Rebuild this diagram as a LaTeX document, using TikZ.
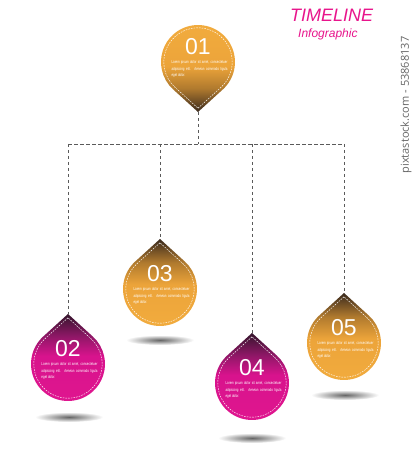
\documentclass[tikz,border=0pt]{standalone}
\usepackage{fontspec}
\setmainfont{Liberation Sans}
\newfontfamily\wmfont{Open Sans}
\newfontfamily\condfont[FakeStretch=0.7]{Liberation Sans}
\usetikzlibrary{calc}
\definecolor{orng}{HTML}{ECA43A}
\definecolor{orngl}{HTML}{F2AC3E}
\definecolor{orngm}{HTML}{B07A2E}
\definecolor{orngdk}{HTML}{3A2A1E}
\definecolor{mag}{HTML}{D8138D}
\definecolor{magl}{HTML}{E0168F}
\definecolor{magm}{HTML}{8E1766}
\definecolor{magdk}{HTML}{34152B}
\definecolor{titlepink}{HTML}{E8158C}
\definecolor{linegray}{HTML}{5A5A5A}
\pgfdeclareverticalshading{orngdrop}{100bp}{color(0bp)=(orngl); color(25bp)=(orngl); color(50bp)=(orng); color(62bp)=(orngm); color(75bp)=(orngdk); color(100bp)=(orngdk)}
\pgfdeclareverticalshading{magdrop}{100bp}{color(0bp)=(magl); color(25bp)=(magl); color(52bp)=(mag); color(63bp)=(magm); color(75bp)=(magdk); color(100bp)=(magdk)}
\tikzset{
  conn/.style={draw=linegray, line width=0.8pt, dash pattern=on 3.5pt off 2.5pt},
  stitch/.style={draw=white, line width=0.45pt, dash pattern=on 1.6pt off 1.1pt},
  num/.style={text=white, font=\fontsize{23}{23}\selectfont, inner sep=0pt, text depth=0pt, anchor=base},
  lorem/.style={text=white, font=\condfont\fontsize{4.2}{6.5}\selectfont, text width=56pt, align=justify, inner sep=0pt, anchor=north},
  shadowell/.style={inner color=black!60, outer color=white},
}
\newcommand{\mkdrop}[6]{%
  \pgfmathsetmacro{\shang}{#4-90}%
  \coordinate (#1) at (#2,#3);
  \coordinate (#1tip) at ($(#1)+(#4:50)$);
  \shade[shading=#5, shading angle=\shang] (#1tip) -- ($(#1)+(#4+42.27:37)$) arc[start angle=#4+42.27, end angle=#4+317.73, radius=37] -- cycle;
  \draw[stitch] ($(#1)+(#4:46.2)$) -- ($(#1)+(#4+42.27:34.2)$) arc[start angle=#4+42.27, end angle=#4+317.73, radius=34.2] -- cycle;
  \node[num] (#1num) at ($(#1)+(0,7.5)$) {#6};
  \node[lorem] (#1txt) at ($(#1)+(1.5,1.5)$) {Lorem ipsum dolor sit amet, consectetuer adipiscing elit. Aenean commodo ligula eget dolor.};
}
\begin{document}
\begin{tikzpicture}[x=1pt,y=1pt]
\useasboundingbox (0,0) rectangle (416,450);
\fill[white] (0,0) rectangle (416,450);
% title
\node[inner sep=0pt, anchor=base west, text=titlepink, font=\itshape\fontsize{18}{18}\selectfont] (title) at (290,428) {TIMELINE};
\node[inner sep=0pt, anchor=base west, text=titlepink, font=\itshape\fontsize{12}{12}\selectfont] (sub) at (298,412) {Infographic};
% watermark text
\node[inner sep=0pt, rotate=90, text=black!60, font=\wmfont\fontsize{11}{11}\selectfont] (wm) at (406,345) {pixtastock.com - 53868137};
% shadows
\shade[shadowell] (69,33) ellipse[x radius=34, y radius=5];
\shade[shadowell] (160,110) ellipse[x radius=34, y radius=5];
\shade[shadowell] (252,12) ellipse[x radius=34, y radius=5];
\shade[shadowell] (345,55) ellipse[x radius=34, y radius=5];
% connector anchor points
\coordinate (d1tip0) at (198,338);
\coordinate (hl) at (68,306);
\coordinate (hr) at (344,306);
\coordinate (d2tip0) at (68,136);
\coordinate (d3tip0) at (160,211);
\coordinate (d4tip0) at (252,117);
\coordinate (d5tip0) at (344,157);
\draw[conn] (d1tip0) -- (d1tip0 |- hl);
\draw[conn] (hl) -- (hr);
\draw[conn] (hl) -- (d2tip0);
\draw[conn] (d3tip0 |- hl) -- (d3tip0);
\draw[conn] (d4tip0 |- hl) -- (d4tip0);
\draw[conn] (hr) -- (d5tip0);
% drops
\mkdrop{d1}{198}{388}{270}{orngdrop}{01}
\mkdrop{d2}{68}{86}{90}{magdrop}{02}
\mkdrop{d3}{160}{161}{90}{orngdrop}{03}
\mkdrop{d4}{252}{67}{90}{magdrop}{04}
\mkdrop{d5}{344}{107}{90}{orngdrop}{05}
\end{tikzpicture}
\end{document}
